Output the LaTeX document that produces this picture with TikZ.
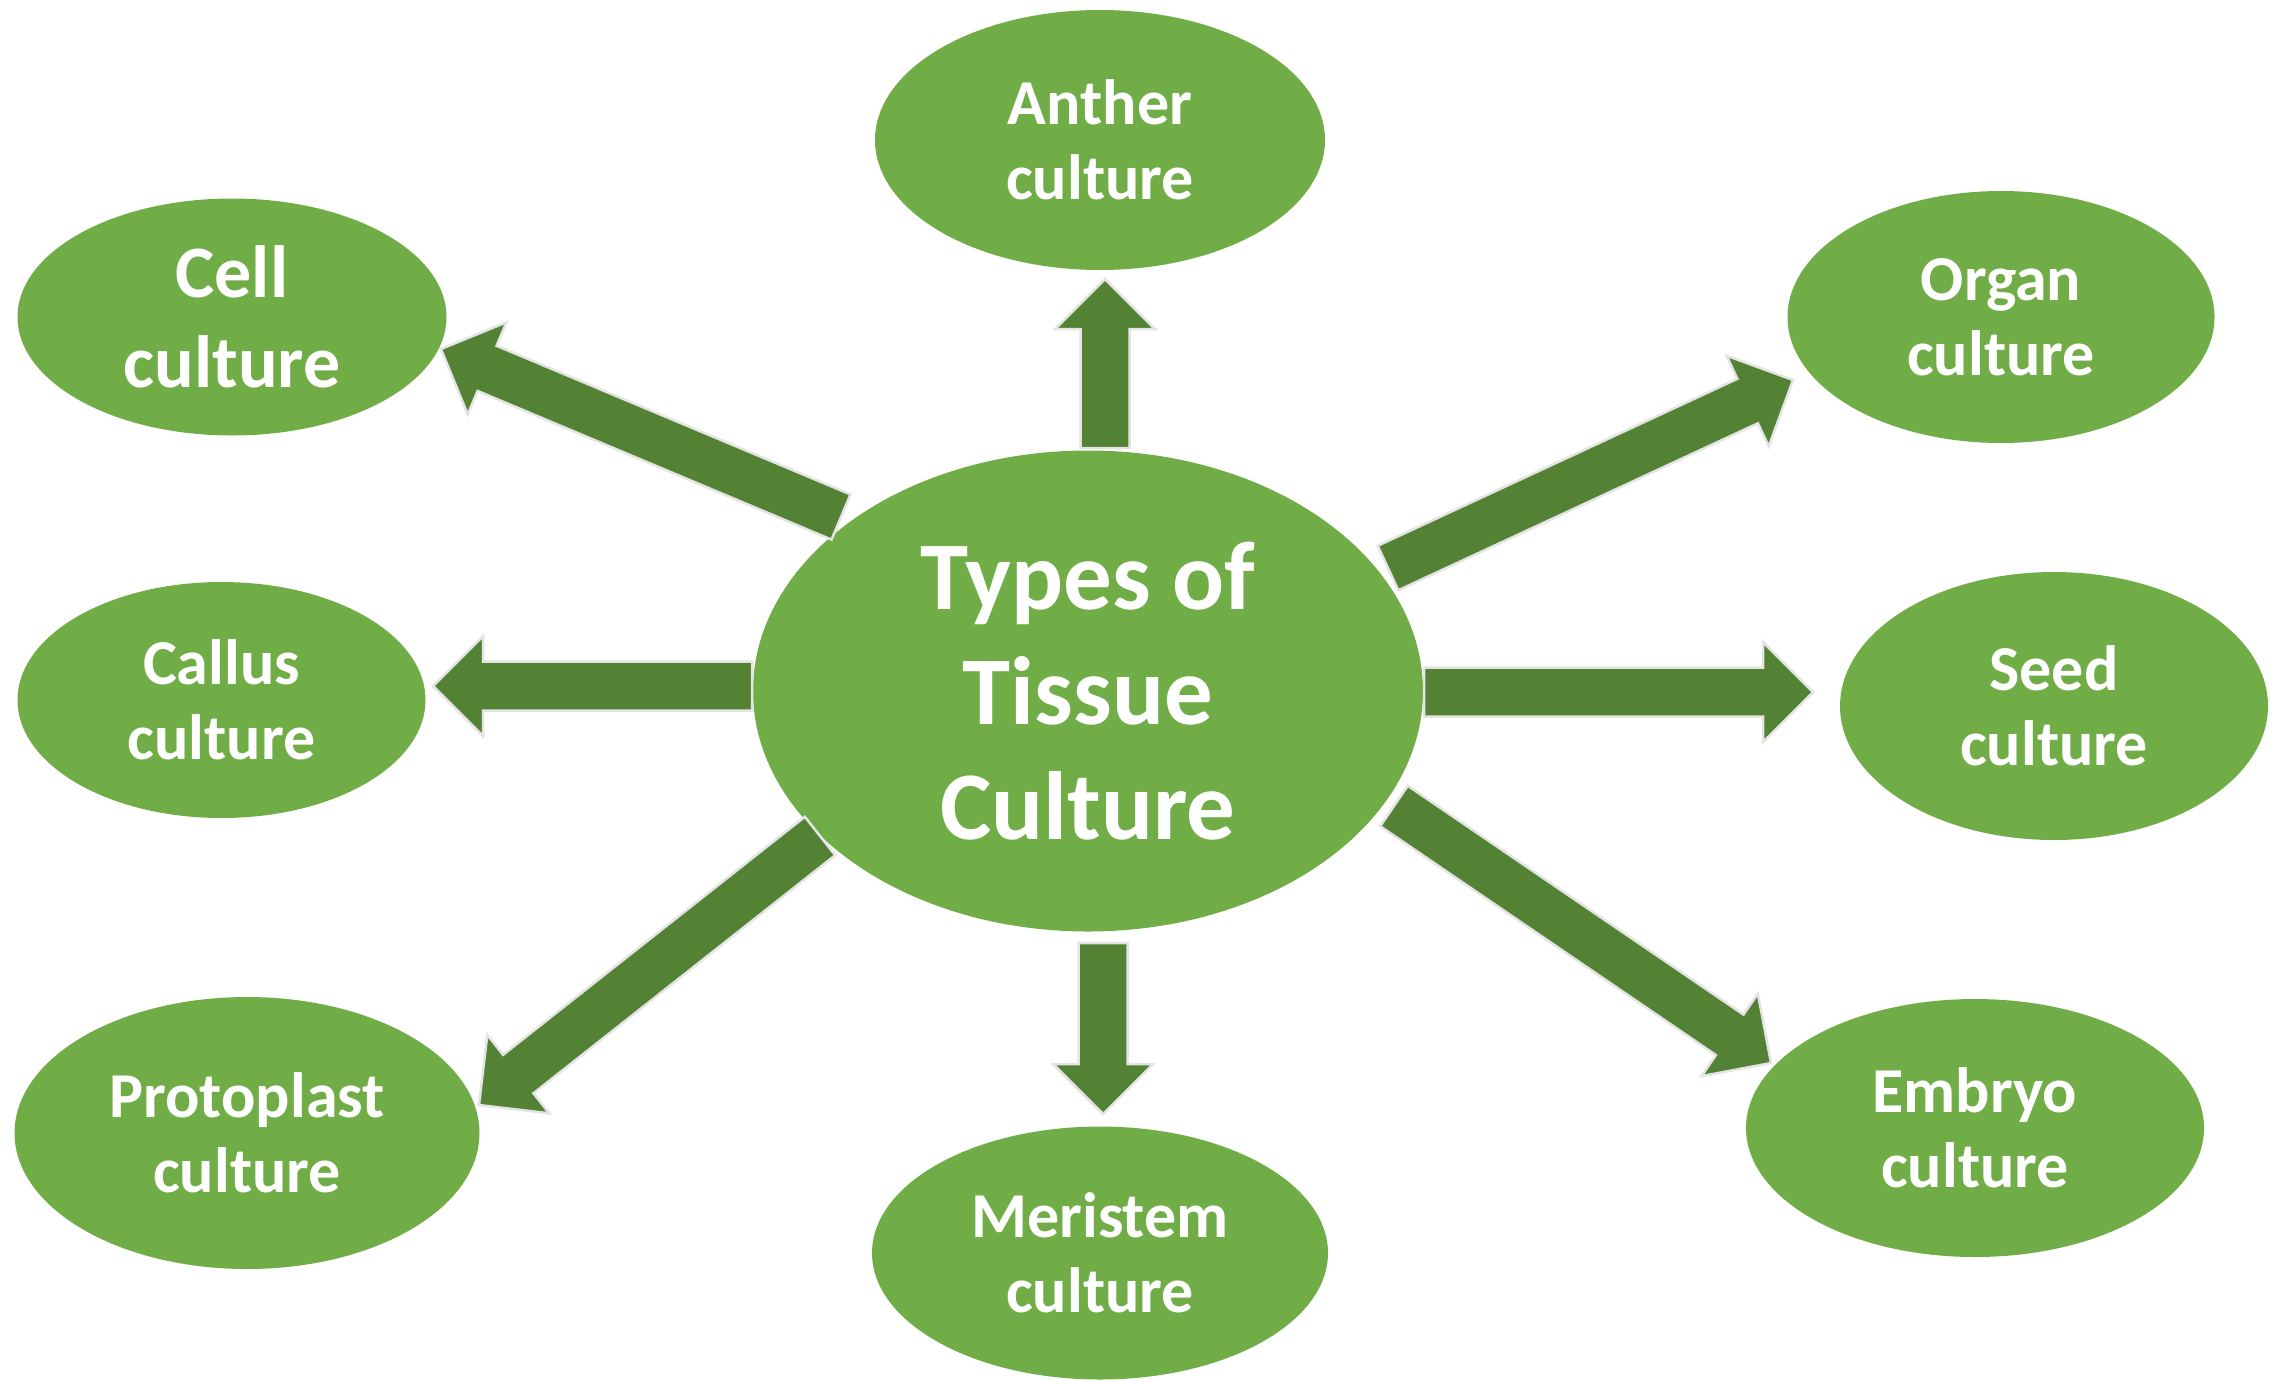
\documentclass[tikz,border=0pt]{standalone}
\usepackage{fontspec}
\setmainfont{Carlito}
\usetikzlibrary{calc,shapes.geometric}
\definecolor{leaf}{HTML}{70AD47}
\definecolor{stem}{HTML}{548235}
\definecolor{rim}{HTML}{E4E4E4}
\tikzset{
  bubble/.style={ellipse, fill=leaf, inner sep=0pt, text=white, align=center,
    font=\bfseries\fontsize{64}{75}\selectfont},
  bigbubble/.style={bubble, font=\bfseries\fontsize{97}{115}\selectfont},
  midbubble/.style={bubble, font=\bfseries\fontsize{74}{90}\selectfont},
  fatarrow/.style={fill=stem, draw=rim, line width=2.5pt, line join=miter}
}
\newcommand\bigarrow[2]{%
  \coordinate (#1-#2-h) at ($(#2)!50pt!(#1)$);
  \path[fatarrow] ($(#1)!24.5pt!90:(#2)$) -- ($(#1-#2-h)!24.5pt!90:(#2)$)
    -- ($(#1-#2-h)!50pt!90:(#2)$) -- (#2) -- ($(#1-#2-h)!50pt!-90:(#2)$)
    -- ($(#1-#2-h)!24.5pt!-90:(#2)$) -- ($(#1)!24.5pt!-90:(#2)$) -- cycle;}
\begin{document}
\begin{tikzpicture}[x=1pt,y=-1pt]
\useasboundingbox (0,0) rectangle (2293,1379);
% ellipses
\node[bigbubble, minimum width=670pt, minimum height=481pt] (tc) at (1088,691) {Types of\\Tissue\\Culture};
\node[bubble, minimum width=450pt, minimum height=260pt] (anther) at (1100,140) {Anther\\culture};
\node[midbubble, minimum width=429pt, minimum height=237pt] (cell) at (232,317) {Cell\\culture};
\node[bubble, minimum width=427pt, minimum height=252pt] (organ) at (2001,317) {Organ\\culture};
\node[bubble, minimum width=408pt, minimum height=236pt] (callus) at (221.5,700) {Callus\\culture};
\node[bubble, minimum width=428pt, minimum height=268pt] (seed) at (2054,706) {Seed\\culture};
\node[bubble, minimum width=465pt, minimum height=272pt] (proto) at (247,1133) {Protoplast\\culture};
\node[bubble, minimum width=456pt, minimum height=253pt] (meri) at (1100,1253) {Meristem\\culture};
\node[bubble, minimum width=458pt, minimum height=258pt] (embryo) at (1975,1128) {Embryo\\culture};
% arrow ends
\coordinate (cellA) at (841,517);   \coordinate (cellB) at (441,349);
\coordinate (antA) at (1105,448);   \coordinate (antB) at (1105,279);
\coordinate (orgA) at (1388,568);   \coordinate (orgB) at (1793,380);
\coordinate (calA) at (752,686);    \coordinate (calB) at (433,686);
\coordinate (seedA) at (1424,692);  \coordinate (seedB) at (1813,692);
\coordinate (proA) at (820,836);    \coordinate (proB) at (479,1105);
\coordinate (merA) at (1103,943);   \coordinate (merB) at (1103,1114);
\coordinate (embA) at (1394,806);   \coordinate (embB) at (1771,1063);
% arrows
\bigarrow{cellA}{cellB}
\bigarrow{antA}{antB}
\bigarrow{orgA}{orgB}
\bigarrow{calA}{calB}
\bigarrow{seedA}{seedB}
\bigarrow{proA}{proB}
\bigarrow{merA}{merB}
\bigarrow{embA}{embB}
\end{tikzpicture}
\end{document}
